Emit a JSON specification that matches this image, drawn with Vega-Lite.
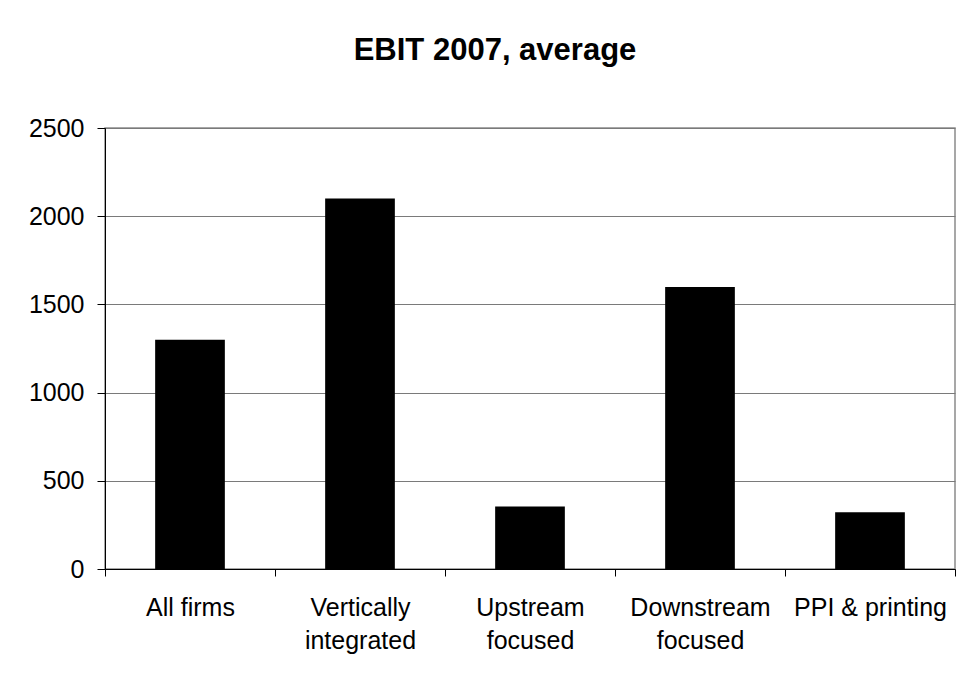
{
  "$schema": "https://vega.github.io/schema/vega-lite/v6.json",
  "width": 850,
  "height": 441,
  "autosize": {"type": "none"},
  "padding": {"left": 105, "top": 128, "right": 21, "bottom": 122},
  "background": "white",
  "title": {
    "text": "EBIT 2007, average",
    "font": "Liberation Sans",
    "fontSize": 31,
    "fontWeight": "bold",
    "color": "black",
    "anchor": "middle",
    "frame": "group",
    "dx": -35,
    "offset": 49
  },
  "data": {
    "values": [
      {"category": "All firms", "ebit": 1300},
      {"category": "Vertically|integrated", "ebit": 2100},
      {"category": "Upstream|focused", "ebit": 355},
      {"category": "Downstream|focused", "ebit": 1598},
      {"category": "PPI & printing", "ebit": 322}
    ]
  },
  "mark": {"type": "bar", "color": "black", "width": {"band": 0.41}},
  "encoding": {
    "x": {
      "field": "category",
      "type": "nominal",
      "sort": null,
      "scale": {"paddingInner": 0, "paddingOuter": 0},
      "axis": {
        "title": null,
        "labelAngle": 0,
        "labelExpr": "split(datum.label, '|')",
        "tickBand": "extent",
        "tickSize": 7,
        "tickColor": "black",
        "domainColor": "black",
        "labelPadding": 19,
        "labelFont": "Liberation Sans",
        "labelFontSize": 25,
        "labelLineHeight": 33,
        "labelColor": "black",
        "labelLimit": 400,
        "labelOverlap": false,
        "grid": false
      }
    },
    "y": {
      "field": "ebit",
      "type": "quantitative",
      "scale": {"domain": [0, 2500], "nice": false},
      "axis": {
        "title": null,
        "values": [0, 500, 1000, 1500, 2000, 2500],
        "format": "d",
        "tickSize": 8,
        "tickColor": "black",
        "domainColor": "black",
        "labelPadding": 13,
        "labelFont": "Liberation Sans",
        "labelFontSize": 25,
        "labelColor": "black",
        "grid": true,
        "gridColor": "#7a7a7a",
        "gridWidth": 1,
        "gridOpacity": 1
      }
    }
  },
  "config": {"view": {"stroke": "#8a8a8a", "strokeWidth": 1.5}}
}
